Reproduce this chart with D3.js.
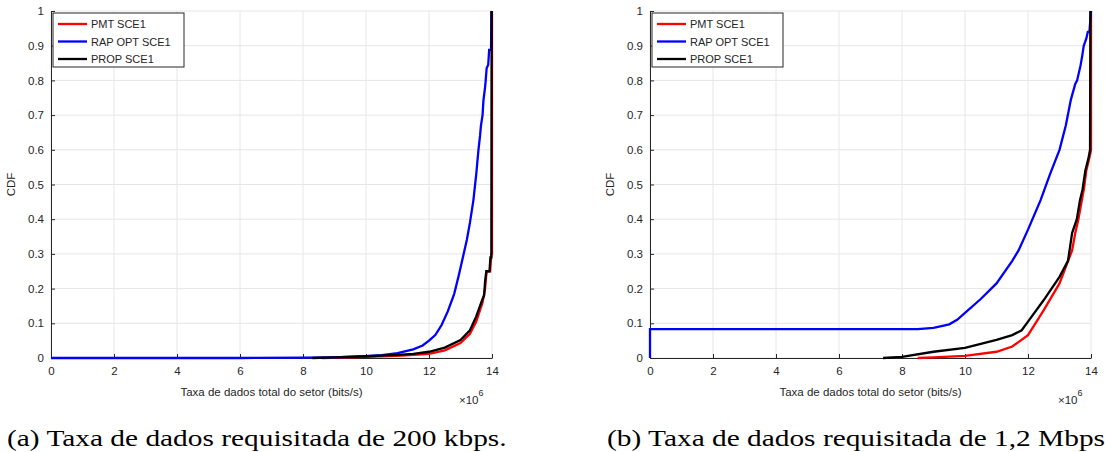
<!DOCTYPE html>
<html>
<head>
<meta charset="utf-8">
<script src="https://cdn.jsdelivr.net/npm/d3@7"></script>
<style>
  html, body { margin: 0; padding: 0; background: #fff; }
  svg { display: block; }
  text { font-family: "Liberation Sans", Arial, sans-serif; fill: #262626; }
  .caption { font-family: "Liberation Serif", "DejaVu Serif", serif; fill: #000; }
</style>
</head>
<body>
<svg id="fig" width="1105" height="452"></svg>
<script>
// Axis ticks
const xTicks = [0, 2, 4, 6, 8, 10, 12, 14];
const yTicks = [0, 0.1, 0.2, 0.3, 0.4, 0.5, 0.6, 0.7, 0.8, 0.9, 1];
const yTickLabels = ["0", "0.1", "0.2", "0.3", "0.4", "0.5", "0.6", "0.7", "0.8", "0.9", "1"];

const seriesNames = ["PMT SCE1", "RAP OPT SCE1", "PROP SCE1"];
const seriesColors = ["#ff0000", "#0000ff", "#000000"];

// Panel (a): requested rate 200 kbps — [rate (x1e6 bit/s), CDF]
const pmtA = [[8.6,0],[10,0.003],[11,0.006],[12,0.012],[12.5,0.022],[13,0.043],[13.3,0.07],[13.5,0.105],[13.7,0.16],[13.78,0.2],[13.83,0.25],[13.94,0.25],[13.98,0.3],[14,0.3],[14,1]];
const rapA = [[0,0],[6,0],[8,0.001],[9,0.002],[10,0.005],[10.5,0.008],[11,0.014],[11.5,0.025],[11.8,0.036],[12,0.05],[12.2,0.066],[12.4,0.095],[12.6,0.135],[12.8,0.185],[12.95,0.24],[13.1,0.3],[13.2,0.34],[13.3,0.39],[13.41,0.455],[13.5,0.53],[13.57,0.6],[13.62,0.64],[13.65,0.67],[13.7,0.7],[13.73,0.744],[13.78,0.78],[13.8,0.8],[13.83,0.835],[13.88,0.845],[13.91,0.888],[13.97,0.888],[13.98,1]];
const propA = [[8.3,0],[9,0.002],[10,0.005],[11,0.009],[11.5,0.012],[12,0.018],[12.5,0.03],[13,0.052],[13.3,0.08],[13.5,0.12],[13.6,0.145],[13.7,0.17],[13.75,0.18],[13.78,0.22],[13.82,0.25],[13.92,0.25],[13.95,0.29],[13.98,0.29],[13.99,1]];

// Panel (b): requested rate 1,2 Mbps
const pmtB = [[8.5,0],[9,0.002],[10,0.006],[11,0.018],[11.5,0.033],[12,0.066],[12.5,0.138],[13,0.215],[13.4,0.31],[13.5,0.36],[13.6,0.4],[13.7,0.45],[13.78,0.49],[13.85,0.54],[13.93,0.57],[13.98,0.59],[14,0.6],[14,1]];
const rapB = [[0,0],[0,0.083],[8.5,0.083],[9,0.087],[9.5,0.097],[9.75,0.11],[10,0.13],[10.5,0.17],[11,0.215],[11.5,0.28],[11.7,0.31],[12,0.37],[12.4,0.455],[12.7,0.53],[13,0.6],[13.2,0.67],[13.36,0.744],[13.5,0.79],[13.56,0.8],[13.67,0.844],[13.72,0.87],[13.77,0.9],[13.85,0.92],[13.9,0.94],[13.95,0.94],[14,1]];
const propB = [[7.4,0],[8,0.003],[9,0.018],[10,0.029],[11,0.052],[11.5,0.066],[11.8,0.08],[12,0.105],[12.5,0.167],[13,0.234],[13.27,0.28],[13.4,0.36],[13.55,0.4],[13.65,0.455],[13.73,0.485],[13.82,0.54],[13.92,0.576],[13.97,0.6],[13.98,1]];

const captionA = "(a) Taxa de dados requisitada de 200 kbps.";
const captionB = "(b) Taxa de dados requisitada de 1,2 Mbps.";
const xLabel = "Taxa de dados total do setor (bits/s)";
const yLabel = "CDF";

const svg = d3.select("#fig");
const captionNodes = [];

function drawPanel(left, series, caption, captionX) {
  const x = d3.scaleLinear().domain([0, 14]).range([left, left + 441]);
  const y = d3.scaleLinear().domain([0, 1]).range([358, 11]);
  const g = svg.append("g");

  // grid
  g.append("g").selectAll("line").data(xTicks).join("line")
    .attr("x1", d => x(d)).attr("x2", d => x(d))
    .attr("y1", y(0)).attr("y2", y(1))
    .attr("stroke", "#e6e6e6").attr("stroke-width", 1);
  g.append("g").selectAll("line").data(yTicks).join("line")
    .attr("x1", x(0)).attr("x2", x(14))
    .attr("y1", d => y(d)).attr("y2", d => y(d))
    .attr("stroke", "#e6e6e6").attr("stroke-width", 1);

  // axes (ticks pointing inward)
  const xAxis = d3.axisBottom(x).tickValues(xTicks).tickSizeInner(-4).tickSizeOuter(0).tickPadding(9);
  const yAxis = d3.axisLeft(y).tickValues(yTicks).tickFormat((d, i) => yTickLabels[i]).tickSizeInner(-4).tickSizeOuter(0).tickPadding(7);
  const gx = g.append("g").attr("transform", `translate(0,${y(0)})`).call(xAxis);
  const gy = g.append("g").attr("transform", `translate(${x(0)},0)`).call(yAxis);
  [gx, gy].forEach(a => {
    a.select(".domain").attr("stroke", "#262626");
    a.selectAll(".tick line").attr("stroke", "#262626");
    a.selectAll("text").attr("fill", "#262626").style("font-size", "11.5px")
      .style("font-family", "'Liberation Sans', Arial, sans-serif");
  });

  // CDF curves
  const line = d3.line().x(d => x(d[0])).y(d => y(d[1]));
  series.forEach((s, i) => {
    g.append("path").datum(s).attr("d", line)
      .attr("fill", "none").attr("stroke", seriesColors[i])
      .attr("stroke-width", 2.3).attr("stroke-linejoin", "miter");
  });

  // axis labels
  g.append("text").attr("x", x(7)).attr("y", 396).attr("text-anchor", "middle")
    .style("font-size", "11.5px").text(xLabel);
  g.append("text").attr("transform", `translate(${left - 36},${y(0.5)}) rotate(-90)`)
    .attr("text-anchor", "middle").style("font-size", "11.5px").text(yLabel);
  const exp = g.append("text").attr("x", x(14) - 33).attr("y", 404).style("font-size", "11.5px");
  exp.append("tspan").text("\u00d710");
  exp.append("tspan").attr("dy", -8).style("font-size", "9px").text("6");

  // legend
  const lx = x(0) + 2, ly = 13;
  g.append("rect").attr("x", lx).attr("y", ly).attr("width", 131).attr("height", 54)
    .attr("fill", "#fff").attr("stroke", "#262626").attr("stroke-width", 1);
  seriesNames.forEach((name, i) => {
    const yy = ly + 11 + i * 17.5;
    g.append("line").attr("x1", lx + 5).attr("x2", lx + 34).attr("y1", yy).attr("y2", yy)
      .attr("stroke", seriesColors[i]).attr("stroke-width", 2.3);
    g.append("text").attr("x", lx + 38).attr("y", yy + 4).style("font-size", "11px")
      .attr("fill", "#000").text(name);
  });

  // caption
  captionNodes.push(svg.append("text").attr("class", "caption").attr("x", captionX).attr("y", 446)
    .style("font-size", "23px").text(caption));
}

drawPanel(51, [pmtA, rapA, propA], captionA, 7);
drawPanel(650, [pmtB, rapB, propB], captionB, 607);

// widen the serif captions so they read like the document's roman face:
// the second caption runs to "Mbps" at the right edge of the figure
const node = captionNodes[1].node();
const toMbps = node.getSubStringLength(0, captionB.length - 1);
const stretch = (1105 - 607) / toMbps;
captionNodes.forEach(t => {
  const w = t.node().getComputedTextLength();
  t.attr("textLength", w * stretch).attr("lengthAdjust", "spacingAndGlyphs");
});
</script>
</body>
</html>
